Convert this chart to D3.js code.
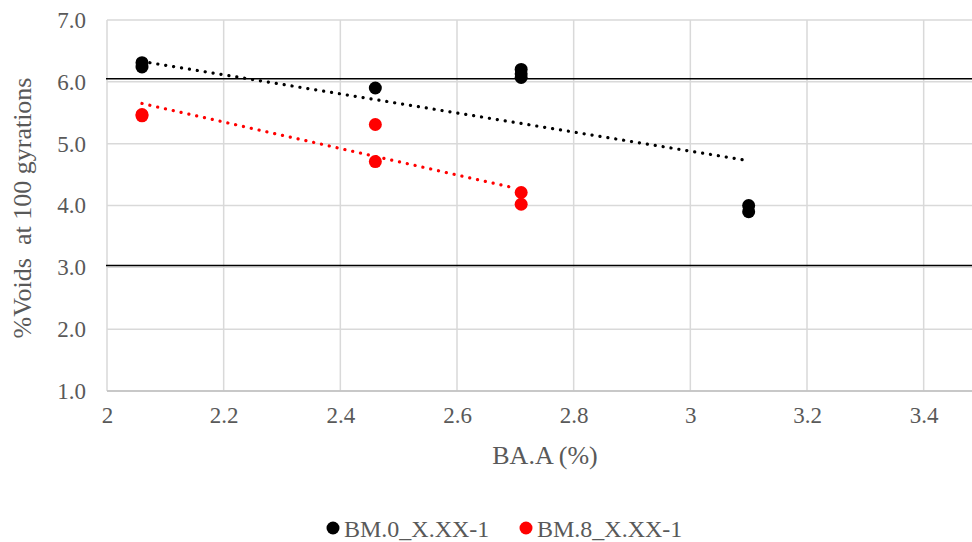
<!DOCTYPE html>
<html>
<head>
<meta charset="utf-8">
<script src="https://cdn.jsdelivr.net/npm/d3@7"></script>
<style>
  body { margin: 0; background: #fff; }
  svg { display: block; font-family: "Liberation Serif", "Times New Roman", serif; }
  .grid line { stroke: #d9d9d9; stroke-width: 1.5; }
  .tick text { fill: #595959; font-size: 23px; font-family: "Liberation Serif", "Times New Roman", serif; }
</style>
</head>
<body>
<div id="chart"></div>
<script>
// series
var seriesNames = ["BM.0_X.XX-1", "BM.8_X.XX-1"];
var seriesColors = ["#000000", "#ff0000"];

var bm0X = [2.06, 2.06, 2.46, 2.71, 2.71, 2.71, 3.1, 3.1];
var bm0Y = [6.31, 6.24, 5.90, 6.20, 6.13, 6.07, 4.00, 3.90];

var bm8X = [2.06, 2.06, 2.46, 2.46, 2.71, 2.71];
var bm8Y = [5.47, 5.45, 5.31, 4.71, 4.21, 4.02];

// trend line ends (dotted)
var bm0TrendX = [2.06, 3.09];
var bm0TrendY = [6.33, 4.74];
var bm8TrendX = [2.06, 2.70];
var bm8TrendY = [5.65, 4.28];

// two black horizontal lines across the plot
var refLines = [6.05, 3.03];

var xTicks = [2, 2.2, 2.4, 2.6, 2.8, 3, 3.2, 3.4];
var yTicks = [1, 2, 3, 4, 5, 6, 7];

var width = 972, height = 542;

var x = d3.scaleLinear().domain([2, 3.5]).range([107, 982]);
var y = d3.scaleLinear().domain([1, 7]).range([391, 20]);

var svg = d3.select('#chart').append('svg')
    .attr('width', width)
    .attr('height', height);

// gridlines
svg.append('g').attr('class', 'grid')
    .selectAll('line.h').data(yTicks).enter().append('line')
    .attr('x1', x(2)).attr('x2', width)
    .attr('y1', function(d) { return y(d); })
    .attr('y2', function(d) { return y(d); });

svg.append('g').attr('class', 'grid')
    .selectAll('line.v').data(xTicks).enter().append('line')
    .attr('x1', function(d) { return x(d); })
    .attr('x2', function(d) { return x(d); })
    .attr('y1', y(7)).attr('y2', y(1));

// axes (no domain lines, no tick marks)
var yAxis = d3.axisLeft(y).tickValues(yTicks).tickFormat(d3.format('.1f')).tickSize(0).tickPadding(21);
var xAxis = d3.axisBottom(x).tickValues(xTicks).tickFormat(function(d) { return String(d); }).tickSize(0).tickPadding(16);

svg.append('g').attr('transform', 'translate(' + x(2) + ',0)').call(yAxis)
    .attr('font-family', null)
    .call(function(g) { g.select('.domain').remove(); });
svg.append('g').attr('transform', 'translate(0,' + y(1) + ')').call(xAxis)
    .attr('font-family', null)
    .call(function(g) { g.select('.domain').remove(); });

// bottom axis line
svg.append('line')
    .attr('x1', x(2)).attr('x2', width)
    .attr('y1', y(1)).attr('y2', y(1))
    .attr('stroke', '#bfbfbf').attr('stroke-width', 1.5);

// black reference lines
svg.selectAll('line.ref').data(refLines).enter().append('line')
    .attr('class', 'ref')
    .attr('x1', x(2) - 1).attr('x2', width)
    .attr('y1', function(d) { return y(d); })
    .attr('y2', function(d) { return y(d); })
    .attr('stroke', '#000').attr('stroke-width', 1.6);

// trend lines
var line = d3.line()
    .x(function(d) { return x(d[0]); })
    .y(function(d) { return y(d[1]); });

var trends = [d3.zip(bm0TrendX, bm0TrendY), d3.zip(bm8TrendX, bm8TrendY)];
trends.forEach(function(t, i) {
    svg.append('path')
        .attr('d', line(t))
        .attr('fill', 'none')
        .attr('stroke', seriesColors[i])
        .attr('stroke-width', 3.2)
        .attr('stroke-linecap', 'round')
        .attr('stroke-dasharray', '0.1 7.9');
});

// points
var series = [d3.zip(bm0X, bm0Y), d3.zip(bm8X, bm8Y)];
series.forEach(function(s, i) {
    svg.append('g').selectAll('circle').data(s).enter().append('circle')
        .attr('cx', function(d) { return x(d[0]); })
        .attr('cy', function(d) { return y(d[1]); })
        .attr('r', 6.5)
        .attr('fill', seriesColors[i]);
});

// axis titles
svg.append('text')
    .attr('x', 545).attr('y', 464)
    .attr('text-anchor', 'middle')
    .attr('fill', '#595959').attr('font-size', 26)
    .text('BA.A (%)');

svg.append('text')
    .attr('transform', 'translate(31,208) rotate(-90)')
    .attr('text-anchor', 'middle')
    .attr('fill', '#595959').attr('font-size', 26)
    .attr('xml:space', 'preserve')
    .text('%Voids  at 100 gyrations');

// legend
var legendX = [333, 526];
var legend = svg.append('g');
seriesNames.forEach(function(name, i) {
    legend.append('circle')
        .attr('cx', legendX[i]).attr('cy', 528)
        .attr('r', 6.5).attr('fill', seriesColors[i]);
    legend.append('text')
        .attr('x', legendX[i] + 11).attr('y', 537)
        .attr('fill', '#595959').attr('font-size', 24)
        .text(name);
});
</script>
</body>
</html>
